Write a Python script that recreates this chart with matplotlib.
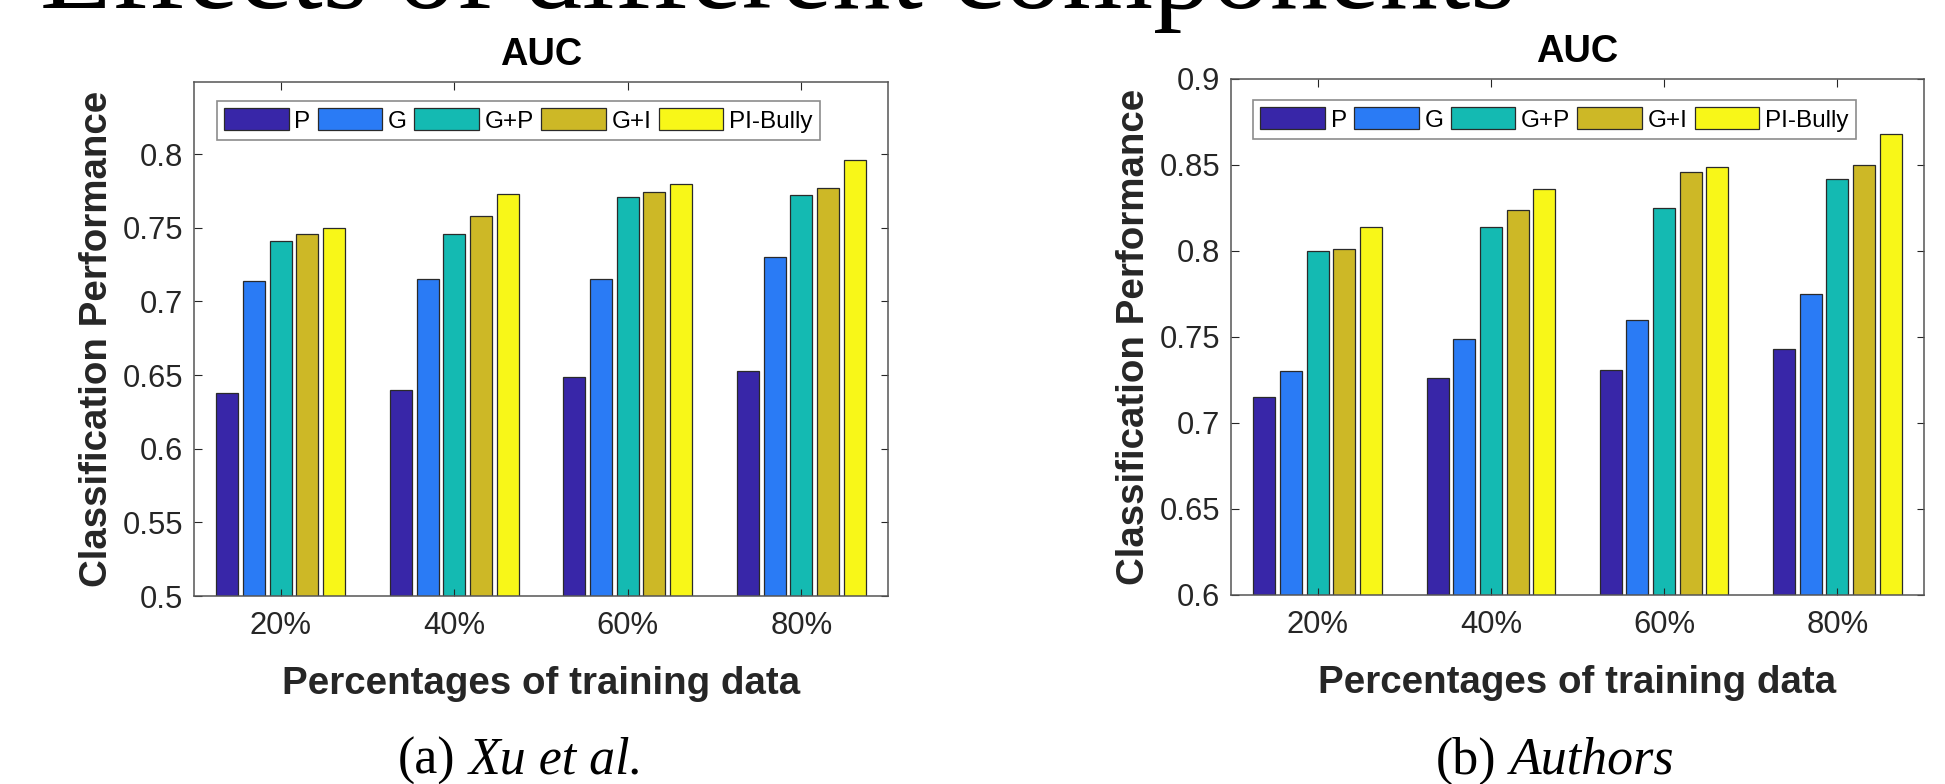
import matplotlib
matplotlib.use('Agg')
import numpy as np
import matplotlib.pyplot as plt
from matplotlib.ticker import FormatStrFormatter

# Datos
categorias = ['20%', '40%', '60%', '80%']
metodos = ['P', 'G', 'G+P', 'G+I', 'PI-Bully']
colores = ['#3826A8', '#2A7BF5', '#14BAB2', '#CDB826', '#F8F718']

# (a) Xu et al.
xu_P = [0.638, 0.640, 0.649, 0.653]
xu_G = [0.714, 0.715, 0.715, 0.730]
xu_GP = [0.741, 0.746, 0.771, 0.772]
xu_GI = [0.746, 0.758, 0.774, 0.777]
xu_PIBully = [0.750, 0.773, 0.780, 0.796]

# (b) Authors
au_P = [0.715, 0.726, 0.731, 0.743]
au_G = [0.730, 0.749, 0.760, 0.775]
au_GP = [0.800, 0.814, 0.825, 0.842]
au_GI = [0.801, 0.824, 0.846, 0.850]
au_PIBully = [0.814, 0.836, 0.849, 0.868]

xu_ticks = [0.5, 0.55, 0.6, 0.65, 0.7, 0.75, 0.8]
au_ticks = [0.6, 0.65, 0.7, 0.75, 0.8, 0.85, 0.9]

W, H = 1945, 784
gris = '#262626'
sans = 'Liberation Sans'
serif = 'Liberation Serif'

plt.rcParams['font.family'] = sans


def grafica(ax, series, ylim, yticks, leg_xy):
    x = np.arange(1, len(categorias) + 1)
    paso = 0.154
    ancho = 0.127
    for i, (vals, nombre, c) in enumerate(zip(series, metodos, colores)):
        ax.bar(x + (i - 2) * paso, vals, ancho, color=c, edgecolor='#2a2a2a',
               linewidth=0.9, label=nombre)
    ax.set_xlim(0.5, 4.5)
    ax.set_ylim(*ylim)
    ax.set_xticks(x)
    ax.set_xticklabels(categorias)
    ax.set_yticks(yticks)
    ax.yaxis.set_major_formatter(FormatStrFormatter('%g'))
    ax.tick_params(direction='in', length=5.4, width=0.8, top=True, right=True,
                   labelsize=22.3, color=gris, labelcolor=gris)
    ax.tick_params(axis='x', pad=11)
    ax.tick_params(axis='y', pad=8)
    for s in ax.spines.values():
        s.set_color('#555555')
        s.set_linewidth(1.1)
    ax.set_title('AUC', fontsize=27.4, fontweight='bold', color='black', pad=0,
                 y=1.033)
    ax.set_xlabel('Percentages of training data', fontsize=27.7,
                  fontweight='bold', color=gris, va='baseline')
    ax.xaxis.set_label_coords(0.5, -0.19)
    ax.set_ylabel('Classification Performance', fontsize=27.7,
                  fontweight='bold', color=gris, va='baseline')
    ax.yaxis.set_label_coords(-0.125, 0.5)
    leg = ax.legend(loc='upper left', bbox_to_anchor=leg_xy, ncol=5,
                    fontsize=17.5, handlelength=2.65, handleheight=1.0,
                    handletextpad=0.24, columnspacing=0.3, borderpad=0.3,
                    borderaxespad=0, fancybox=False, framealpha=1)
    leg.get_frame().set_edgecolor('#8c8c8c')
    leg.get_frame().set_linewidth(1.2)
    for t in leg.get_texts():
        t.set_color('black')


fig = plt.figure(figsize=(W / 100, H / 100), dpi=100)

ax1 = fig.add_axes([194 / W, 1 - 596 / H, 694 / W, 514 / H])
grafica(ax1, [xu_P, xu_G, xu_GP, xu_GI, xu_PIBully], (0.5, 0.849), xu_ticks,
        (0.033, 0.963))

ax2 = fig.add_axes([1231 / W, 1 - 595 / H, 693 / W, 516 / H])
grafica(ax2, [au_P, au_G, au_GP, au_GI, au_PIBully], (0.6, 0.9), au_ticks,
        (0.032, 0.959))

# Titulo grande recortado arriba (solo se ve la parte de abajo)
fig.text(40 / W, 1 - 8 / H, 'Effects of different components', fontsize=84,
         family=serif, va='baseline', ha='left')

# Subtitulos (a) y (b)
y_cap = 1 - 774 / H
t1 = fig.text(398 / W, y_cap, '(a)', fontsize=37.4, family=serif, va='baseline')
t3 = fig.text(1436 / W, y_cap, '(b)', fontsize=37.4, family=serif, va='baseline')
fig.canvas.draw()
for t, txt in [(t1, 'Xu et al.'), (t3, 'Authors')]:
    bb = t.get_window_extent()
    fig.text(bb.x1 / W + 13 / W, y_cap, txt, fontsize=37.4, family=serif,
             style='italic', va='baseline')

fig.savefig('out.png', dpi=100)
